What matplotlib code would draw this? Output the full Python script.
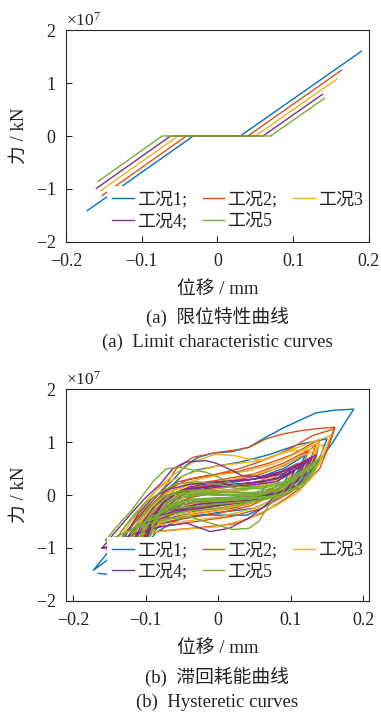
import matplotlib
matplotlib.use('Agg')
import matplotlib.pyplot as plt
from matplotlib.ticker import ScalarFormatter

plt.rcParams['font.family'] = ['Liberation Serif', 'Noto Sans CJK SC']
plt.rcParams['mathtext.fontset'] = 'custom'
plt.rcParams['mathtext.rm'] = 'Liberation Serif'
plt.rcParams['axes.unicode_minus'] = True

SCALE = 1e7  # force values below are in units of 1e7 kN

case_labels = ['工况1;', '工况2;', '工况3', '工况4;', '工况5']
case_colors = ['#0072BD', '#D95319', '#EDB120', '#7E2F8E', '#77AC30']

x_ticks = [-0.2, -0.1, 0, 0.1, 0.2]
x_tick_labels = ['\u22120.2', '\u22120.1', '0', '0.1', '0.2']
y_ticks = [-2, -1, 0, 1, 2]

# (a) limit characteristic curves: displacement / force (x1e7)
limit_x = [
    [-0.172, -0.032, 0.030, 0.190],
    [-0.152, -0.041, 0.040, 0.164],
    [-0.154, -0.052, 0.050, 0.158],
    [-0.160, -0.062, 0.060, 0.1385],
    [-0.158, -0.073, 0.070, 0.141],
]
limit_y = [
    [-1.41, 0.0, 0.0, 1.60],
    [-1.12, 0.0, 0.0, 1.245],
    [-1.03, 0.0, 0.0, 1.08],
    [-0.99, 0.0, 0.0, 0.785],
    [-0.86, 0.0, 0.0, 0.71],
]

# (b) hysteretic curves: loops of (displacement, force x1e7)
hyst_case1 = [
    [(-0.060, -0.30), (-0.040, -0.05), (0.000, 0.05), (0.040, 0.10), (0.070, 0.30), (0.060, 0.05),
     (0.020, -0.05), (-0.030, -0.10), (-0.060, -0.30)],
    [(-0.100, -0.85), (-0.085, -0.50), (-0.070, -0.20), (-0.050, 0.00), (0.000, 0.08), (0.050, 0.15),
     (0.080, 0.30), (0.100, 0.50), (0.090, 0.20), (0.070, 0.00), (0.030, -0.10), (-0.020, -0.15),
     (-0.060, -0.30), (-0.085, -0.55), (-0.100, -0.85)],
    [(-0.120, -0.95), (-0.105, -0.65), (-0.090, -0.35), (-0.070, -0.05), (-0.050, 0.10), (0.000, 0.20),
     (0.050, 0.30), (0.090, 0.50), (0.120, 0.75), (0.110, 0.45), (0.090, 0.15), (0.060, -0.10),
     (0.020, -0.22), (-0.030, -0.30), (-0.070, -0.45), (-0.095, -0.65), (-0.120, -0.95)],
    [(-0.135, -1.05), (-0.118, -0.72), (-0.100, -0.35), (-0.075, 0.05), (-0.050, 0.35), (-0.030, 0.47),
     (0.000, 0.55), (0.030, 0.62), (0.070, 0.76), (0.110, 0.95), (0.150, 1.06), (0.140, 0.70),
     (0.120, 0.30), (0.090, 0.00), (0.050, -0.25), (0.000, -0.33), (-0.050, -0.45), (-0.090, -0.60),
     (-0.110, -0.80), (-0.135, -1.05)],
    [(-0.172, -1.42), (-0.153, -1.10), (-0.130, -0.78), (-0.105, -0.35), (-0.080, 0.05), (-0.061, 0.30),
     (-0.045, 0.55), (-0.028, 0.71), (-0.007, 0.79), (0.020, 0.82), (0.042, 0.90), (0.066, 1.09),
     (0.089, 1.26), (0.111, 1.40), (0.135, 1.55), (0.160, 1.60), (0.187, 1.62), (0.172, 1.30),
     (0.158, 0.99), (0.135, 0.55), (0.112, 0.20), (0.085, -0.05), (0.060, -0.25), (0.040, -0.38),
     (0.000, -0.38), (-0.044, -0.38), (-0.085, -0.70), (-0.130, -1.45), (-0.150, -1.50),
     (-0.165, -1.48)],
]
hyst_case2 = [
    [(-0.070, -0.35), (-0.050, -0.10), (-0.020, 0.02), (0.030, 0.08), (0.070, 0.25), (0.090, 0.45),
     (0.080, 0.15), (0.050, -0.02), (0.000, -0.10), (-0.040, -0.20), (-0.070, -0.35)],
    [(-0.105, -0.85), (-0.090, -0.45), (-0.070, -0.15), (-0.050, 0.05), (0.000, 0.12), (0.050, 0.22),
     (0.080, 0.40), (0.110, 0.60), (0.100, 0.30), (0.080, 0.05), (0.040, -0.08), (0.000, -0.18),
     (-0.050, -0.28), (-0.090, -0.50), (-0.105, -0.85)],
    [(-0.115, -0.95), (-0.100, -0.50), (-0.080, -0.20), (-0.050, 0.10), (0.000, 0.22), (0.050, 0.35),
     (0.090, 0.55), (0.120, 0.78), (0.135, 0.95), (0.125, 0.60), (0.105, 0.25), (0.075, 0.00),
     (0.030, -0.15), (-0.020, -0.25), (-0.060, -0.35), (-0.100, -0.55), (-0.115, -0.95)],
    [(-0.125, -1.00), (-0.110, -0.60), (-0.090, -0.25), (-0.070, 0.05), (-0.040, 0.20), (0.000, 0.28),
     (0.050, 0.40), (0.090, 0.60), (0.125, 0.85), (0.115, 0.50), (0.095, 0.15), (0.060, -0.10),
     (0.020, -0.25), (-0.030, -0.35), (-0.070, -0.45), (-0.105, -0.62), (-0.125, -1.00)],
    [(-0.130, -1.00), (-0.110, -0.55), (-0.085, -0.10), (-0.055, 0.25), (-0.020, 0.35), (0.030, 0.45),
     (0.070, 0.60), (0.100, 0.75), (0.140, 1.05), (0.135, 0.70), (0.115, 0.35), (0.085, 0.05),
     (0.045, -0.20), (0.000, -0.35), (-0.050, -0.45), (-0.090, -0.55), (-0.130, -1.00)],
    [(-0.140, -1.05), (-0.130, -0.75), (-0.100, -0.30), (-0.070, 0.10), (-0.040, 0.30), (0.000, 0.40),
     (0.030, 0.50), (0.056, 0.62), (0.080, 0.75), (0.103, 0.90), (0.130, 1.12), (0.160, 1.25),
     (0.150, 0.85), (0.130, 0.40), (0.100, 0.05), (0.060, -0.25), (0.020, -0.40), (-0.030, -0.50),
     (-0.080, -0.60), (-0.115, -0.75), (-0.140, -1.05)],
    [(-0.152, -1.12), (-0.135, -0.85), (-0.110, -0.40), (-0.090, -0.10), (-0.072, 0.18), (-0.058, 0.49),
     (-0.035, 0.71), (-0.003, 0.80), (0.024, 0.85), (0.043, 0.90), (0.066, 1.06), (0.089, 1.15),
     (0.112, 1.21), (0.135, 1.25), (0.161, 1.28), (0.152, 0.90), (0.140, 0.50), (0.120, 0.20),
     (0.095, -0.05), (0.060, -0.35), (0.020, -0.55), (-0.030, -0.62), (-0.080, -0.68), (-0.120, -0.85),
     (-0.152, -1.12)],
]
hyst_case3 = [
    [(-0.070, -0.30), (-0.050, -0.05), (-0.020, 0.03), (0.030, 0.08), (0.070, 0.20), (0.100, 0.40),
     (0.090, 0.15), (0.060, 0.00), (0.020, -0.06), (-0.030, -0.15), (-0.070, -0.30)],
    [(-0.095, -0.80), (-0.080, -0.40), (-0.060, -0.10), (-0.030, 0.05), (0.020, 0.10), (0.060, 0.20),
     (0.090, 0.35), (0.115, 0.55), (0.105, 0.25), (0.080, 0.05), (0.040, -0.08), (0.000, -0.15),
     (-0.040, -0.25), (-0.080, -0.45), (-0.095, -0.80)],
    [(-0.110, -0.90), (-0.100, -0.45), (-0.080, -0.15), (-0.060, 0.02), (-0.020, 0.10), (0.030, 0.18),
     (0.070, 0.30), (0.100, 0.50), (0.125, 0.70), (0.115, 0.40), (0.095, 0.12), (0.060, -0.05),
     (0.020, -0.15), (-0.030, -0.22), (-0.070, -0.32), (-0.095, -0.50), (-0.110, -0.90)],
    [(-0.120, -0.95), (-0.110, -0.55), (-0.090, -0.20), (-0.070, 0.05), (-0.040, 0.18), (0.000, 0.25),
     (0.040, 0.35), (0.080, 0.50), (0.110, 0.70), (0.135, 0.85), (0.125, 0.55), (0.105, 0.20),
     (0.075, -0.05), (0.030, -0.20), (-0.020, -0.30), (-0.070, -0.40), (-0.100, -0.58), (-0.120, -0.95)],
    [(-0.125, -0.95), (-0.105, -0.45), (-0.075, -0.05), (-0.040, 0.25), (0.000, 0.38), (0.040, 0.45),
     (0.080, 0.60), (0.110, 0.80), (0.140, 1.00), (0.130, 0.65), (0.110, 0.30), (0.080, 0.05),
     (0.040, -0.12), (0.000, -0.30), (-0.050, -0.40), (-0.090, -0.55), (-0.125, -0.95)],
    [(-0.140, -1.00), (-0.130, -0.70), (-0.110, -0.30), (-0.085, 0.10), (-0.060, 0.40), (-0.030, 0.65),
     (-0.003, 0.77), (0.024, 0.74), (0.042, 0.68), (0.060, 0.66), (0.085, 0.78), (0.103, 0.84),
     (0.125, 0.85), (0.145, 0.95), (0.140, 0.60), (0.120, 0.25), (0.090, 0.00), (0.050, -0.25),
     (0.000, -0.42), (-0.050, -0.50), (-0.090, -0.58), (-0.120, -0.75), (-0.140, -1.00)],
    [(-0.154, -1.04), (-0.140, -0.80), (-0.115, -0.35), (-0.095, -0.05), (-0.080, 0.15), (-0.060, 0.30),
     (-0.030, 0.45), (0.000, 0.55), (0.030, 0.60), (0.060, 0.65), (0.090, 0.80), (0.120, 0.95),
     (0.155, 1.12), (0.145, 0.75), (0.130, 0.35), (0.110, 0.05), (0.080, -0.20), (0.040, -0.45),
     (0.000, -0.60), (-0.050, -0.65), (-0.100, -0.72), (-0.130, -0.85), (-0.154, -1.04)],
]
hyst_case4 = [
    [(-0.080, -0.35), (-0.060, -0.10), (-0.040, 0.08), (0.000, 0.15), (0.040, 0.18), (0.080, 0.25),
     (0.105, 0.45), (0.095, 0.20), (0.070, 0.02), (0.030, -0.05), (-0.020, -0.10), (-0.050, -0.18),
     (-0.080, -0.35)],
    [(-0.100, -0.85), (-0.090, -0.45), (-0.075, -0.15), (-0.055, 0.05), (-0.020, 0.15), (0.020, 0.20),
     (0.060, 0.25), (0.090, 0.35), (0.115, 0.55), (0.105, 0.25), (0.085, 0.05), (0.050, -0.05),
     (0.010, -0.10), (-0.040, -0.15), (-0.070, -0.25), (-0.090, -0.45), (-0.100, -0.85)],
    [(-0.105, -0.90), (-0.090, -0.40), (-0.070, -0.05), (-0.040, 0.15), (0.000, 0.25), (0.050, 0.30),
     (0.090, 0.40), (0.120, 0.62), (0.110, 0.30), (0.090, 0.08), (0.050, -0.10), (0.000, -0.20),
     (-0.050, -0.30), (-0.080, -0.45), (-0.105, -0.90)],
    [(-0.120, -0.95), (-0.105, -0.55), (-0.090, -0.25), (-0.070, 0.00), (-0.040, 0.12), (0.000, 0.18),
     (0.040, 0.22), (0.080, 0.30), (0.110, 0.50), (0.125, 0.65), (0.115, 0.35), (0.095, 0.10),
     (0.060, -0.08), (0.020, -0.12), (-0.030, -0.18), (-0.070, -0.30), (-0.100, -0.55), (-0.120, -0.95)],
    [(-0.135, -1.00), (-0.125, -0.70), (-0.110, -0.35), (-0.090, -0.05), (-0.070, 0.10), (-0.040, 0.20),
     (0.000, 0.25), (0.040, 0.28), (0.070, 0.35), (0.100, 0.50), (0.130, 0.72), (0.120, 0.40),
     (0.100, 0.15), (0.070, -0.05), (0.030, -0.15), (-0.020, -0.20), (-0.060, -0.30), (-0.100, -0.50),
     (-0.120, -0.70), (-0.135, -1.00)],
    [(-0.160, -1.00), (-0.145, -0.75), (-0.120, -0.35), (-0.100, -0.05), (-0.080, 0.20), (-0.063, 0.49),
     (-0.045, 0.62), (-0.017, 0.65), (-0.003, 0.60), (0.015, 0.49), (0.034, 0.36), (0.060, 0.35),
     (0.090, 0.45), (0.115, 0.60), (0.135, 0.76), (0.125, 0.45), (0.110, 0.20), (0.080, 0.00),
     (0.066, -0.19), (0.042, -0.44), (0.015, -0.63), (-0.011, -0.69), (-0.044, -0.53), (-0.080, -0.60),
     (-0.120, -0.75), (-0.145, -0.95), (-0.160, -1.00)],
]
hyst_case5 = [
    [(-0.070, -0.25), (-0.050, -0.05), (-0.020, 0.02), (0.020, -0.02), (0.060, 0.00), (0.085, 0.12),
     (0.075, -0.03), (0.040, -0.05), (0.000, -0.05), (-0.040, -0.08), (-0.070, -0.25)],
    [(-0.080, -0.30), (-0.060, -0.08), (-0.030, 0.00), (0.010, 0.00), (0.050, -0.02), (0.080, 0.08),
     (0.100, 0.25), (0.085, 0.00), (0.050, -0.06), (0.000, -0.08), (-0.040, -0.10), (-0.080, -0.30)],
    [(-0.095, -0.80), (-0.085, -0.40), (-0.070, -0.12), (-0.050, 0.00), (-0.010, 0.03), (0.030, 0.00),
     (0.060, 0.03), (0.090, 0.15), (0.110, 0.35), (0.095, 0.05), (0.070, -0.05), (0.030, -0.08),
     (-0.010, -0.10), (-0.050, -0.12), (-0.070, -0.20), (-0.085, -0.40), (-0.095, -0.80)],
    [(-0.110, -0.90), (-0.100, -0.50), (-0.085, -0.20), (-0.065, 0.00), (-0.030, 0.06), (0.010, 0.05),
     (0.050, 0.02), (0.080, 0.10), (0.105, 0.30), (0.120, 0.45), (0.105, 0.12), (0.080, -0.02),
     (0.040, -0.08), (0.000, -0.12), (-0.040, -0.15), (-0.070, -0.25), (-0.095, -0.50), (-0.110, -0.90)],
    [(-0.125, -0.95), (-0.115, -0.60), (-0.100, -0.30), (-0.080, -0.05), (-0.050, 0.08), (-0.020, 0.10),
     (0.020, 0.05), (0.050, 0.05), (0.080, 0.15), (0.110, 0.35), (0.130, 0.55), (0.115, 0.20),
     (0.090, 0.00), (0.060, -0.10), (0.020, -0.15), (-0.020, -0.20), (-0.060, -0.25), (-0.090, -0.40),
     (-0.110, -0.60), (-0.125, -0.95)],
    [(-0.145, -1.00), (-0.135, -0.72), (-0.120, -0.45), (-0.100, -0.15), (-0.080, 0.05), (-0.060, 0.20),
     (-0.030, 0.25), (0.000, 0.20), (0.030, 0.12), (0.060, 0.12), (0.090, 0.22), (0.120, 0.45),
     (0.135, 0.62), (0.125, 0.30), (0.100, 0.08), (0.070, -0.05), (0.040, -0.15), (0.000, -0.25),
     (-0.040, -0.30), (-0.080, -0.40), (-0.110, -0.55), (-0.130, -0.75), (-0.145, -1.00)],
    [(-0.155, -0.85), (-0.140, -0.60), (-0.120, -0.30), (-0.104, -0.01), (-0.090, 0.25), (-0.072, 0.49),
     (-0.053, 0.53), (-0.035, 0.47), (-0.017, 0.43), (-0.002, 0.35), (0.030, 0.16), (0.060, 0.15),
     (0.090, 0.25), (0.115, 0.45), (0.140, 0.70), (0.130, 0.40), (0.115, 0.15), (0.084, 0.00),
     (0.070, -0.19), (0.056, -0.50), (0.042, -0.63), (0.020, -0.65), (-0.011, -0.53), (-0.039, -0.41),
     (-0.070, -0.45), (-0.110, -0.60), (-0.140, -0.78), (-0.155, -0.85)],
]
hyst_cases = [hyst_case1, hyst_case2, hyst_case3, hyst_case4, hyst_case5]

LEGEND_ORDER = [0, 3, 1, 4, 2]  # row-wise order for a 3-column legend

fig = plt.figure(figsize=(3.81, 7.13), dpi=100)
ax1 = fig.add_axes([0.1732, 0.6606, 0.7953, 0.2973])
ax2 = fig.add_axes([0.1732, 0.1571, 0.7953, 0.2973])

TXT = '#222222'


def style(ax, xlim):
    ax.set_xlim(*xlim)
    ax.set_ylim(-2 * SCALE, 2 * SCALE)
    ax.set_xticks(x_ticks, labels=x_tick_labels)
    ax.set_yticks([v * SCALE for v in y_ticks])
    fmt = ScalarFormatter(useMathText=True)
    ax.yaxis.set_major_formatter(fmt)
    ax.yaxis.get_offset_text().set_fontsize(12.5)
    ax.yaxis.get_offset_text().set_color(TXT)
    ax.tick_params(direction='in', length=4, width=0.8, top=False, right=False,
                   labelsize=13, colors=TXT)
    ax.tick_params(axis='x', pad=8)
    ax.tick_params(axis='y', pad=7)
    for sp in ax.spines.values():
        sp.set_color('#262626')
        sp.set_linewidth(0.8)
    ax.set_xlabel('位移 / mm', fontsize=13.5, color=TXT)
    ax.set_ylabel('力 / kN', fontsize=13.5, color=TXT)
    ax.xaxis.label.set_verticalalignment('center')
    ax.yaxis.label.set_verticalalignment('center')
    ax.xaxis.set_label_coords(0.5, -0.222)
    ax.yaxis.set_label_coords(-0.155, 0.5)


def add_legend(ax, lines, y):
    hs = [lines[i] for i in LEGEND_ORDER]
    ls = [case_labels[i] for i in LEGEND_ORDER]
    leg = ax.legend(hs, ls, ncol=3, loc='lower right', bbox_to_anchor=(0.997, y),
                    frameon=True, facecolor='white', edgecolor='none', framealpha=1,
                    fancybox=False, fontsize=13, handlelength=1.17, handletextpad=0.17,
                    columnspacing=0.9, labelspacing=0.25, borderpad=0.3, borderaxespad=0)
    for t in leg.get_texts():
        t.set_color(TXT)
    return leg


lines1 = []
for xs, ys, c in zip(limit_x, limit_y, case_colors):
    ln, = ax1.plot(xs, [v * SCALE for v in ys], color=c, lw=1.0)
    lines1.append(ln)
style(ax1, (-0.2, 0.2))
add_legend(ax1, lines1, 0.03)

lines2 = []
for loops, c in zip(hyst_cases, case_colors):
    px = [p[0] for loop in loops for p in loop]
    py = [p[1] * SCALE for loop in loops for p in loop]
    ln, = ax2.plot(px, py, color=c, lw=1.0)
    lines2.append(ln)
style(ax2, (-0.2097, 0.208))
add_legend(ax2, lines2, 0.07)

fig.text(0.57, 0.5554, '(a)  限位特性曲线', ha='center', va='center', fontsize=13.5, color=TXT)
fig.text(0.57, 0.5203, '(a)  Limit characteristic curves', ha='center', va='center', fontsize=13.5, color=TXT)
fig.text(0.57, 0.0505, '(b)  滞回耗能曲线', ha='center', va='center', fontsize=13.5, color=TXT)
fig.text(0.57, 0.0154, '(b)  Hysteretic curves', ha='center', va='center', fontsize=13.5, color=TXT)

fig.savefig('out.png', dpi=100, facecolor='white')
